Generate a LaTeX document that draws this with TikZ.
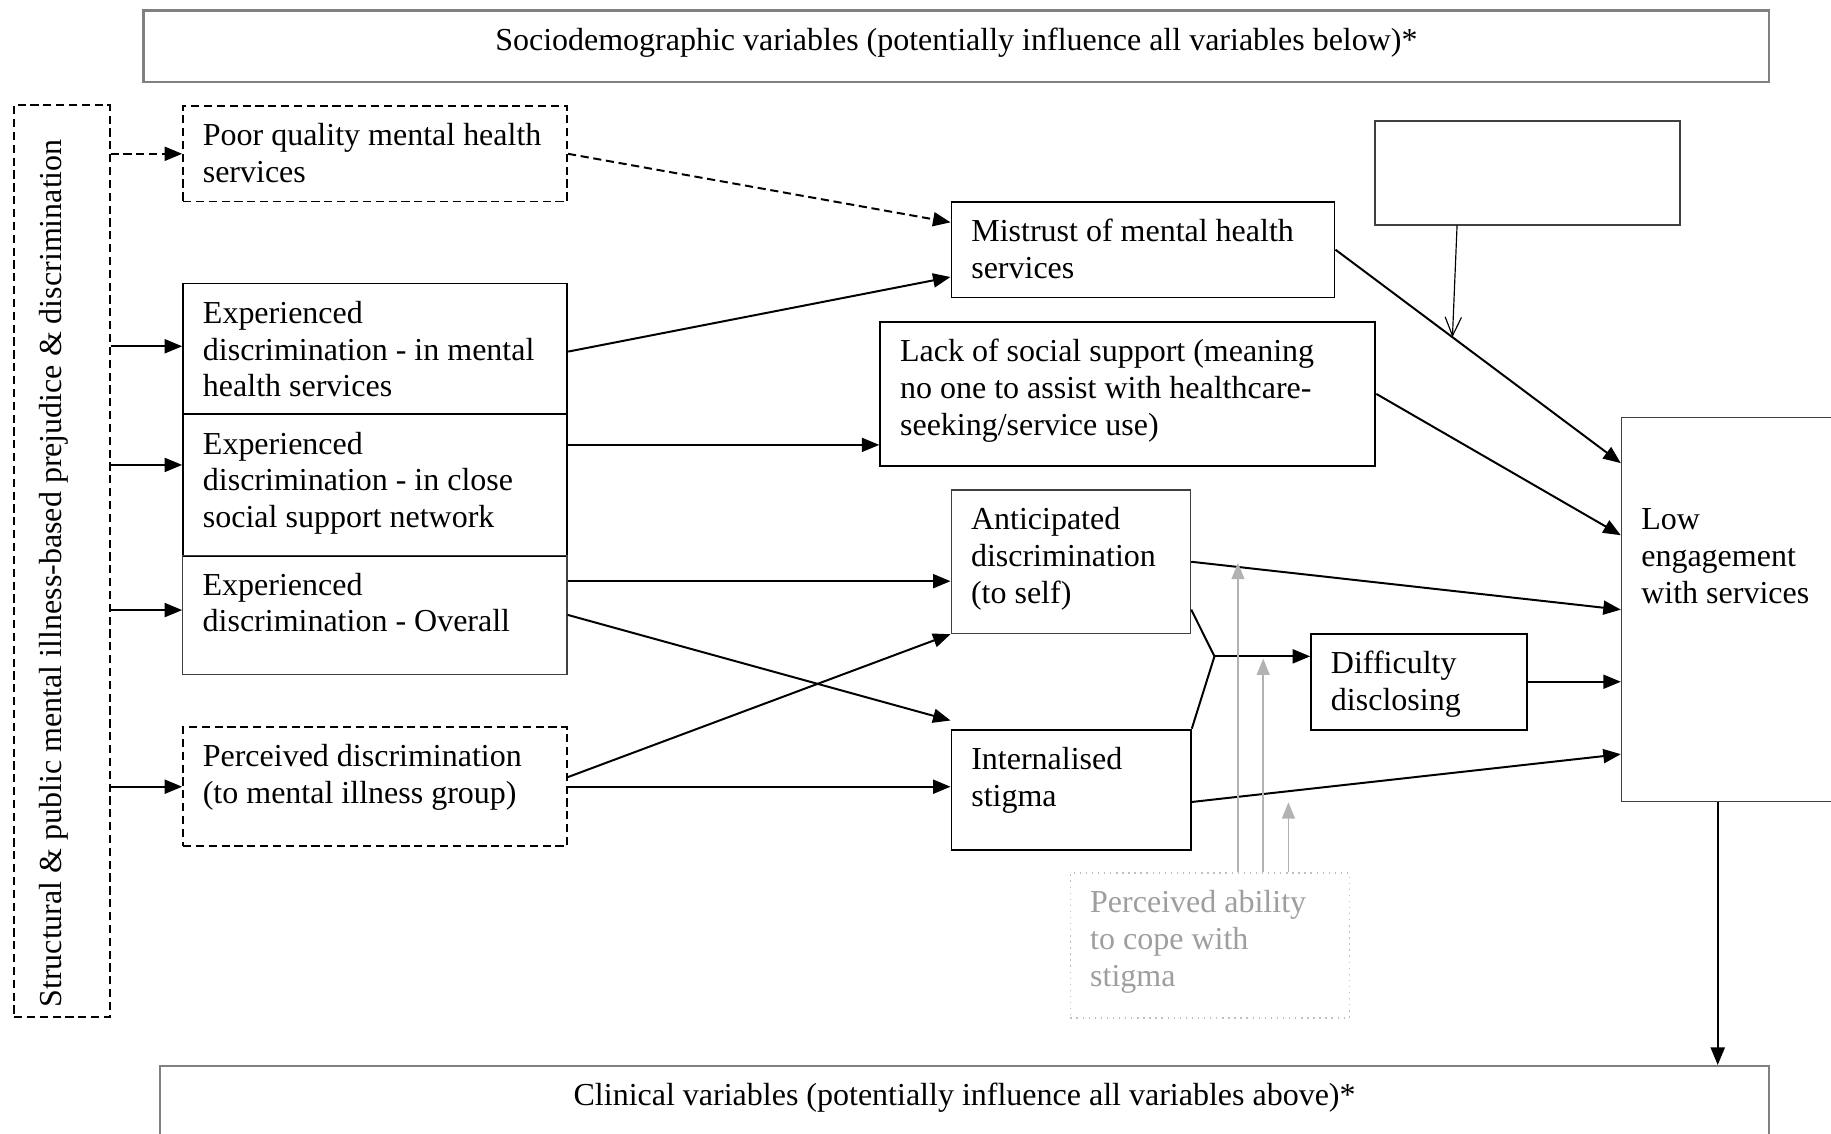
\documentclass[tikz,border=0pt]{standalone}
\usepackage{fontspec}
\setmainfont{Liberation Serif}
\usetikzlibrary{calc}
\usetikzlibrary{arrows.meta}

% text of a box: width and height in px of the drawing, then the lines
\newcommand{\cell}[3]{\parbox[t][\dimexpr#2pt/2-12pt\relax][t]{\dimexpr#1pt/2-17pt\relax}{\raggedright\strut#3}}

\tikzset{
  box/.style={draw, line width=0.8pt, anchor=north west, inner xsep=8.5pt, inner ysep=6pt},
  thinbox/.style={box, line width=0.55pt, draw=black!75},
  dashbox/.style={box, line width=0.7pt, dash pattern=on 3.5pt off 2pt},
  greybox/.style={box, line width=1pt, draw=black!50},
  arr/.style={-{Triangle[length=7.5pt,width=6pt]}, line width=0.85pt},
  dasharr/.style={arr, dash pattern=on 3.5pt off 2pt},
  greyarr/.style={-{Triangle[length=7pt,width=5.5pt]}, draw=black!30, fill=black!30, line width=0.8pt},
}

\begin{document}
\begin{tikzpicture}[x=0.5pt, y=-0.5pt, font=\fontsize{13.7}{15.75}\selectfont]
    \clip (0,0) rectangle (1568,971);

    % boxes
    \node[greybox] (socio) at (122,8) {\cell{1392}{61}{\centering Sociodemographic variables (potentially influence all variables below)*}};
    \node[draw, line width=0.7pt, dash pattern=on 3.5pt off 2pt, minimum width=41pt, minimum height=390.5pt, inner sep=0pt] (structural) at (53,480.5)
        {\rotatebox{90}{\raisebox{0pt}[5pt][5pt]{Structural \& public mental illness-based prejudice \& discrimination}\hspace*{10.5pt}}};
    \node[dashbox] (poorqual) at (156,90) {\cell{329}{82}{Poor quality mental health\\services}};
    \node[box] (expmh) at (156,242) {\cell{329}{112}{Experienced\\discrimination - in mental\\health services}};
    \node[box] (expsocial) at (156,354) {\cell{329}{121}{Experienced\\discrimination - in close\\social support network}};
    \node[thinbox] (expoverall) at (156,475) {\cell{329}{102}{Experienced\\discrimination - Overall}};
    \node[dashbox] (perceived) at (156,622) {\cell{329}{102}{Perceived discrimination\\(to mental illness group)}};
    \node[box] (mistrust) at (814,172) {\cell{328}{82}{Mistrust of mental health\\services}};
    \node[thinbox] (blank) at (1177,103) {\cell{261}{89}{}};
    \node[box] (lacksupport) at (753,275) {\cell{424}{123}{Lack of social support (meaning\\no one to assist with healthcare-\\seeking/service use)}};
    \node[thinbox] (anticipated) at (814,419) {\cell{205}{123}{Anticipated\\discrimination\\(to self)}};
    \node[box] (internal) at (814,624) {\cell{205}{103}{Internalised\\stigma}};
    \node[box] (difficulty) at (1122,542) {\cell{185}{82}{Difficulty\\disclosing}};
    \node[thinbox] (lowengage) at (1388,357) {\cell{230}{329}{\rule{0pt}{42pt}Low\\engagement\\with services}};
    \node[box, line width=0.6pt, draw=black!25, dotted, text=black!38] (coping) at (916,747) {\cell{239}{124}{Perceived ability\\to cope with\\stigma}};
    \node[greybox] (clinical) at (136,912) {\cell{1378}{80}{\centering Clinical variables (potentially influence all variables above)*}};

    % from the structural box
    \coordinate (inmh) at ($(expmh.north west)!.48!(expmh.south west)$);
    \coordinate (insocial) at ($(expsocial.north west)!.36!(expsocial.south west)$);
    \coordinate (inoverall) at ($(expoverall.north west)!.46!(expoverall.south west)$);
    \draw[dasharr] (structural.east |- poorqual.west) -- (poorqual.west);
    \draw[arr] (structural.east |- inmh) -- (inmh);
    \draw[arr] (structural.east |- insocial) -- (insocial);
    \draw[arr] (structural.east |- inoverall) -- (inoverall);
    \draw[arr] (structural.east |- perceived.west) -- (perceived.west);

    % middle column
    \coordinate (outsocial) at ($(expsocial.north east)!.22!(expsocial.south east)$);
    \coordinate (outoverall) at ($(expoverall.north east)!.22!(expoverall.south east)$);
    \coordinate (outperc) at ($(perceived.north east)!.42!(perceived.south east)$);
    \draw[dasharr] (poorqual.east) -- ($(mistrust.north west)!.22!(mistrust.south west)$);
    \draw[arr] ($(expmh.north east)!.52!(expmh.south east)$) -- ($(mistrust.north west)!.78!(mistrust.south west)$);
    \draw[arr] (outsocial) -- (outsocial -| lacksupport.west);
    \draw[arr] (outoverall) -- (outoverall -| anticipated.west);
    \draw[arr] (expoverall.east) -- ([yshift=3.5pt]internal.north west);
    \draw[arr] (outperc) -- (anticipated.south west);
    \draw[arr] (perceived.east) -- (perceived.east -| internal.west);

    % into low engagement
    \coordinate (lowa) at ($(lowengage.north west)!.12!(lowengage.south west)$);
    \draw[arr] (mistrust.east) -- (lowa);
    \draw[-{Straight Barb[length=8pt,width=7pt]}, line width=0.5pt] ($(blank.south west)!.27!(blank.south east)$) -- ($(mistrust.east)!.41!(lowa)$);
    \draw[arr] (lacksupport.east) -- ($(lowengage.north west)!.307!(lowengage.south west)$);
    \draw[arr] (anticipated.east) -- (lowengage.west);
    \draw[arr] (difficulty.east) -- (difficulty.east -| lowengage.west);
    \draw[arr] ($(internal.north east)!.6!(internal.south east)$) -- ($(lowengage.north west)!.875!(lowengage.south west)$);

    % stigma to difficulty disclosing
    \coordinate (join) at ($(difficulty.north west)!.24!(difficulty.south west) + (-82,0)$);
    \draw[line width=0.85pt] ($(anticipated.north east)!.83!(anticipated.south east)$) -- (join) -- (internal.north east);
    \draw[arr] (join) -- (join -| difficulty.west);

    \coordinate (outlow) at ($(lowengage.south west) + (83,0)$);
    \draw[arr] (outlow) -- (outlow |- clinical.north);

    % coping moderates
    \coordinate (g1) at ($(coping.north west)!.6!(coping.north east)$);
    \coordinate (g2) at ($(coping.north west)!.69!(coping.north east)$);
    \coordinate (g3) at ($(coping.north west)!.78!(coping.north east)$);
    \coordinate (g1end) at ($(g1) + (0,-265)$);
    \coordinate (g2end) at ($(g2) + (0,-183)$);
    \coordinate (g3end) at ($(g3) + (0,-60)$);
    \draw[greyarr] (g1) -- (g1end);
    \draw[greyarr] (g2) -- (g2end);
    \draw[greyarr] (g3) -- (g3end);
\end{tikzpicture}
\end{document}
